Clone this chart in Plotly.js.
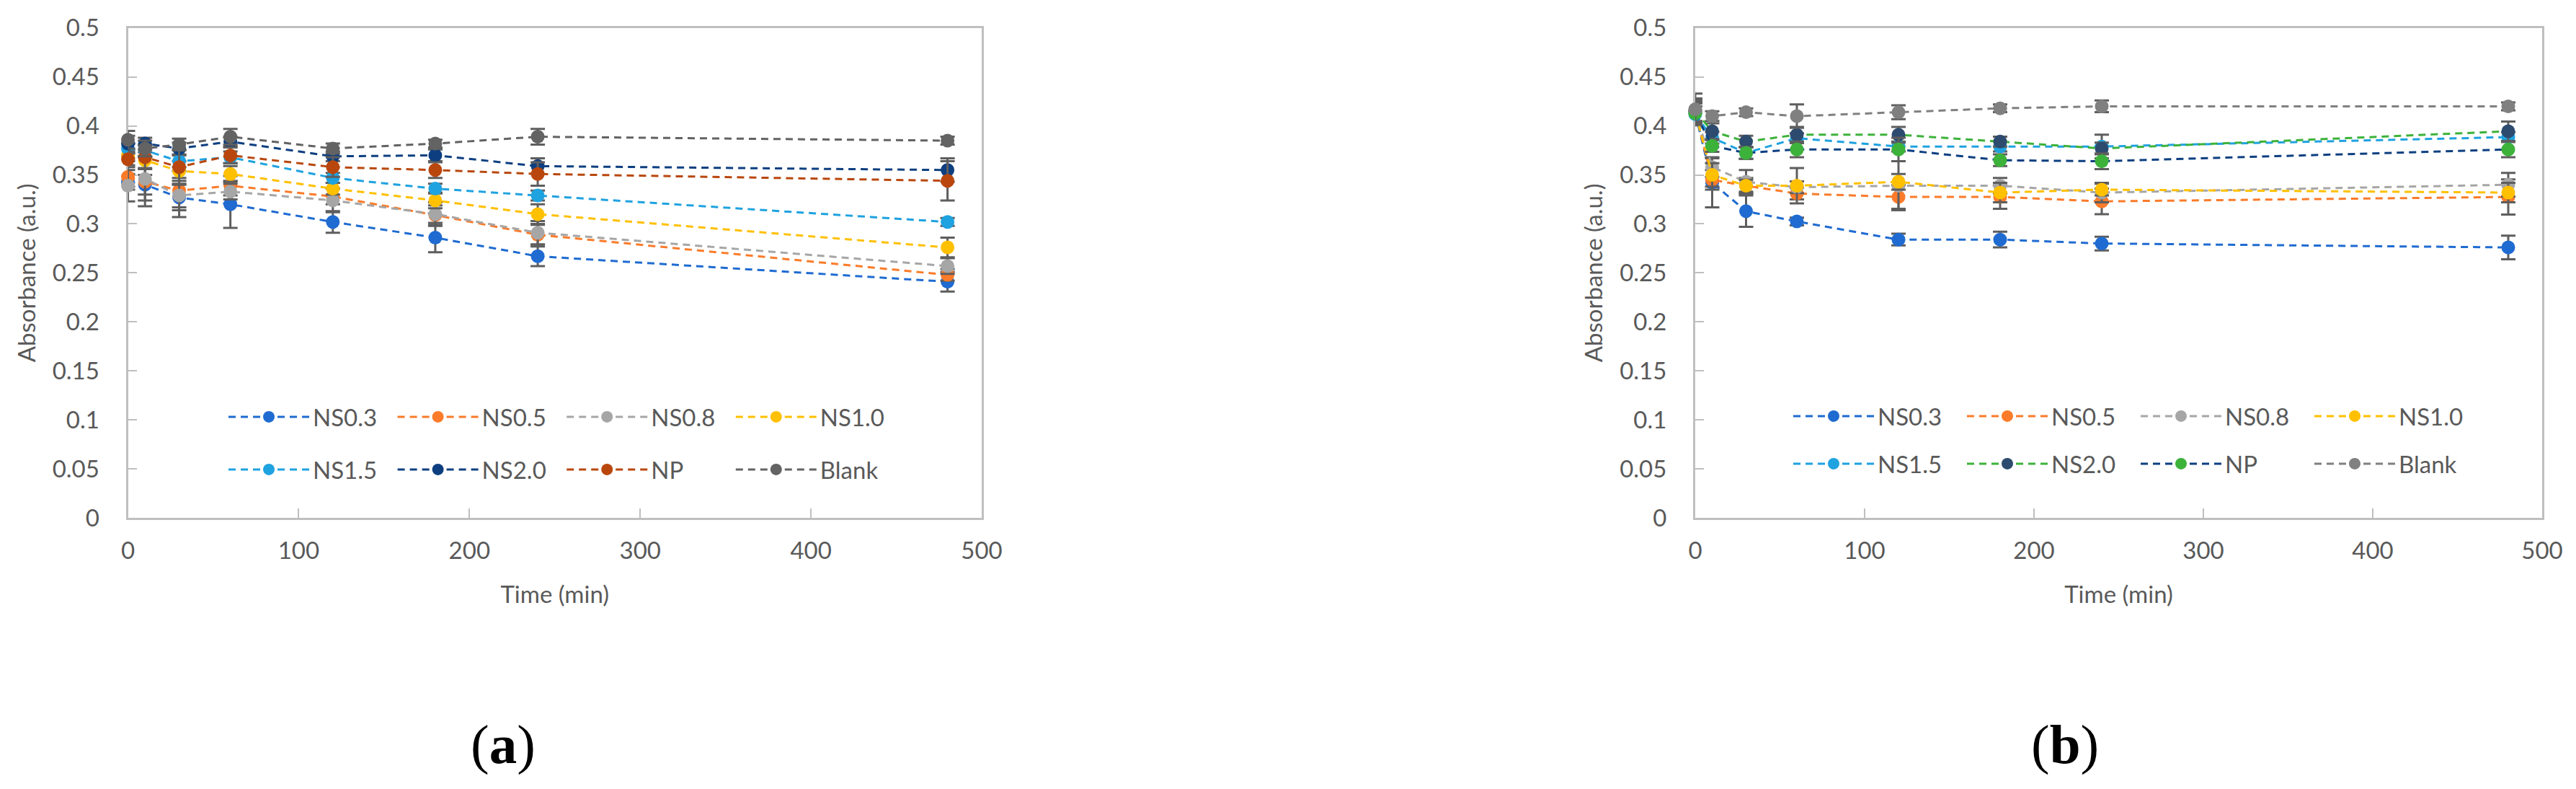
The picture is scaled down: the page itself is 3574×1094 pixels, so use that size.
<!DOCTYPE html>
<html>
<head>
<meta charset="utf-8">
<script src="https://cdn.plot.ly/plotly-3.0.1.min.js"></script>
<style>
  html, body { margin: 0; padding: 0; background: #ffffff; }
  #chart { width: 3574px; height: 1094px; }
</style>
</head>
<body>
<div id="chart"></div>
<script>
// ---------- data ----------
const time = [0, 10, 30, 60, 120, 180, 240, 480];
const seriesNames = ["NS0.3", "NS0.5", "NS0.8", "NS1.0", "NS1.5", "NS2.0", "NP", "Blank"];

// Panel (a)
const a_NS03 = [0.343, 0.340, 0.327, 0.320, 0.302, 0.286, 0.267, 0.241];
const a_NS05 = [0.348, 0.343, 0.334, 0.339, 0.328, 0.309, 0.289, 0.248];
const a_NS08 = [0.339, 0.346, 0.329, 0.333, 0.324, 0.310, 0.291, 0.257];
const a_NS10 = [0.370, 0.365, 0.354, 0.351, 0.336, 0.324, 0.310, 0.276];
const a_NS15 = [0.377, 0.375, 0.364, 0.368, 0.347, 0.336, 0.329, 0.302];
const a_NS20 = [0.382, 0.382, 0.377, 0.384, 0.369, 0.370, 0.359, 0.355];
const a_NP   = [0.366, 0.368, 0.358, 0.370, 0.358, 0.355, 0.351, 0.344];
const a_Blank= [0.386, 0.377, 0.381, 0.389, 0.377, 0.382, 0.389, 0.385];

const a_err_NS03 = [0.008, 0.010, 0.020, 0.024, 0.011, 0.015, 0.010, 0.010];
const a_err_NS05 = [0.010, 0.025, 0.020, 0.010, 0.008, 0.010, 0.010, 0.006];
const a_err_NS08 = [0.016, 0.022, 0.012, 0.008, 0.012, 0.012, 0.012, 0.008];
const a_err_NS10 = [0.006, 0.008, 0.010, 0.008, 0.006, 0.008, 0.010, 0.010];
const a_err_NS15 = [0.005, 0.006, 0.006, 0.006, 0.005, 0.005, 0.005, 0.004];
const a_err_NS20 = [0.008, 0.006, 0.006, 0.005, 0.005, 0.006, 0.008, 0.012];
const a_err_NP   = [0.006, 0.012, 0.018, 0.008, 0.010, 0.008, 0.012, 0.020];
const a_err_Blank= [0.009, 0.008, 0.006, 0.008, 0.005, 0.004, 0.008, 0.004];

// Panel (b)
const b_NS03 = [0.413, 0.342, 0.313, 0.3025, 0.284, 0.284, 0.280, 0.276];
const b_NS05 = [0.415, 0.345, 0.339, 0.331, 0.3275, 0.3275, 0.323, 0.3275];
const b_NS08 = [0.416, 0.358, 0.343, 0.3375, 0.339, 0.339, 0.332, 0.340];
const b_NS10 = [0.414, 0.350, 0.339, 0.339, 0.343, 0.332, 0.335, 0.332];
const b_NS15 = [0.412, 0.388, 0.3725, 0.3875, 0.379, 0.379, 0.379, 0.3886];
const b_NS20 = [0.415, 0.3946, 0.384, 0.391, 0.391, 0.384, 0.377, 0.3946];
const b_NP   = [0.413, 0.3796, 0.3725, 0.376, 0.376, 0.365, 0.364, 0.376];
const b_Blank= [0.417, 0.410, 0.414, 0.410, 0.414, 0.418, 0.420, 0.420];

const b_err_NS03 = [0.012, 0.025, 0.016, 0.004, 0.006, 0.008, 0.007, 0.012];
const b_err_NS05 = [0.010, 0.010, 0.008, 0.006, 0.012, 0.012, 0.013, 0.018];
const b_err_NS08 = [0.012, 0.010, 0.012, 0.006, 0.025, 0.008, 0.010, 0.012];
const b_err_NS10 = [0.010, 0.012, 0.006, 0.018, 0.008, 0.010, 0.006, 0.010];
const b_err_NS15 = [0.008, 0.006, 0.006, 0.005, 0.005, 0.005, 0.012, 0.005];
const b_err_NS20 = [0.012, 0.008, 0.006, 0.008, 0.008, 0.005, 0.006, 0.010];
const b_err_NP   = [0.010, 0.006, 0.006, 0.008, 0.012, 0.006, 0.008, 0.008];
const b_err_Blank= [0.016, 0.005, 0.004, 0.012, 0.007, 0.004, 0.006, 0.004];

const xTickVals = [0, 100, 200, 300, 400, 500];
const yTickVals = [0, 0.05, 0.1, 0.15, 0.2, 0.25, 0.3, 0.35, 0.4, 0.45, 0.5];
const panelLabels = ["(<b>a</b>)", "(<b>b</b>)"];

// ---------- styles ----------
const aVals = [a_NS03, a_NS05, a_NS08, a_NS10, a_NS15, a_NS20, a_NP, a_Blank];
const aErrs = [a_err_NS03, a_err_NS05, a_err_NS08, a_err_NS10, a_err_NS15, a_err_NS20, a_err_NP, a_err_Blank];
const bVals = [b_NS03, b_NS05, b_NS08, b_NS10, b_NS15, b_NS20, b_NP, b_Blank];
const bErrs = [b_err_NS03, b_err_NS05, b_err_NS08, b_err_NS10, b_err_NS15, b_err_NS20, b_err_NP, b_err_Blank];

const aLine   = ["#1F6BD1", "#FB7B2A", "#A6A6A6", "#FFC000", "#1FA2E0", "#0D3F80", "#B9470D", "#636363"];
const aMarker = aLine;
const bLine   = ["#1F6BD1", "#FB7B2A", "#A6A6A6", "#FFC000", "#1FA2E0", "#3DB23A", "#0D3F80", "#808080"];
const bMarker = ["#1F6BD1", "#FB7B2A", "#A6A6A6", "#FFC000", "#1FA2E0", "#2D4B6E", "#3DB23A", "#808080"];

const FONT = "Lato, 'Open Sans', sans-serif";
const TXT = "#595959";
const AXC = "#BFBFBF";

function makeTraces(vals, errs, lineC, markC, xa, ya, legRow1, legRow2) {
  return vals.map((v, i) => ({
    type: "scatter",
    mode: "lines+markers",
    name: seriesNames[i],
    x: time,
    y: v,
    xaxis: xa, yaxis: ya,
    legend: i < 4 ? legRow1 : legRow2,
    cliponaxis: false,
    line: { color: lineC[i], width: 3, dash: "10px,7px" },
    marker: { color: markC[i], size: 19, symbol: "circle" },
    error_y: { type: "data", array: errs[i], visible: true, color: "#5E5E5E", thickness: 3, width: 10 }
  }));
}

const data = [].concat(
  makeTraces(aVals, aErrs, aLine, aMarker, "x", "y", "legend", "legend2"),
  makeTraces(bVals, bErrs, bLine, bMarker, "x2", "y2", "legend3", "legend4")
);

function xAxis(domain, anchor) {
  return {
    domain: domain, anchor: anchor, range: [0, 500], tickvals: xTickVals,
    showgrid: false, zeroline: false, showline: true, mirror: true,
    linecolor: AXC, linewidth: 3, ticks: "inside", ticklen: 13, tickwidth: 2, tickcolor: AXC,
    tickfont: { family: FONT, size: 33, color: TXT }, ticklabelstandoff: 14,
    layer: "below traces",
    title: { text: "Time (min)", font: { family: FONT, size: 33, color: TXT }, standoff: 33 }
  };
}
function yAxis(domain, anchor) {
  return {
    domain: domain, anchor: anchor, range: [0, 0.5], tickvals: yTickVals,
    showgrid: false, zeroline: false, showline: true, mirror: true,
    linecolor: AXC, linewidth: 3, ticks: "inside", ticklen: 12, tickwidth: 2, tickcolor: AXC,
    tickfont: { family: FONT, size: 33, color: TXT }, ticklabelstandoff: 30,
    layer: "below traces",
    title: { text: "Absorbance (a.u.)", font: { family: FONT, size: 33, color: TXT }, standoff: 14 }
  };
}

function legendBox(x, y, entryW) {
  return {
    orientation: "h", x: x, y: y, xanchor: "left", yanchor: "top",
    xref: "paper", yref: "paper",
    bgcolor: "rgba(0,0,0,0)", borderwidth: 0,
    font: { family: FONT, size: 33, color: TXT },
    itemwidth: 112, entrywidth: entryW, entrywidthmode: "pixels",
    traceorder: "normal", itemclick: false
  };
}

const W = 3574, H = 1094;
const layout = {
  width: W, height: H,
  margin: { l: 0, r: 0, t: 0, b: 0 },
  paper_bgcolor: "#ffffff", plot_bgcolor: "#ffffff",
  showlegend: true,
  xaxis: xAxis([177.5 / W, 1362 / W], "y"),
  yaxis: yAxis([1 - 718 / H, 1 - 38.8 / H], "x"),
  xaxis2: xAxis([2352 / W, 3527 / W], "y2"),
  yaxis2: yAxis([1 - 718 / H, 1 - 38.8 / H], "x2"),
  legend:  legendBox(312 / W, 1 - 550 / H, 107.6),
  legend2: legendBox(312 / W, 1 - 623 / H, 107.6),
  legend3: legendBox(2483 / W, 1 - 549 / H, 114),
  legend4: legendBox(2483 / W, 1 - 615 / H, 114),
  annotations: [
    { text: panelLabels[0], xref: "paper", yref: "paper", x: 698 / W, y: 1 - 1032 / H,
      xanchor: "center", yanchor: "middle", showarrow: false,
      font: { family: "'Liberation Serif', 'DejaVu Serif', serif", size: 77, color: "#000000" } },
    { text: panelLabels[1], xref: "paper", yref: "paper", x: 2865 / W, y: 1 - 1032 / H,
      xanchor: "center", yanchor: "middle", showarrow: false,
      font: { family: "'Liberation Serif', 'DejaVu Serif', serif", size: 77, color: "#000000" } }
  ]
};

Plotly.newPlot("chart", data, layout, { staticPlot: true, displayModeBar: false });
</script>
</body>
</html>
